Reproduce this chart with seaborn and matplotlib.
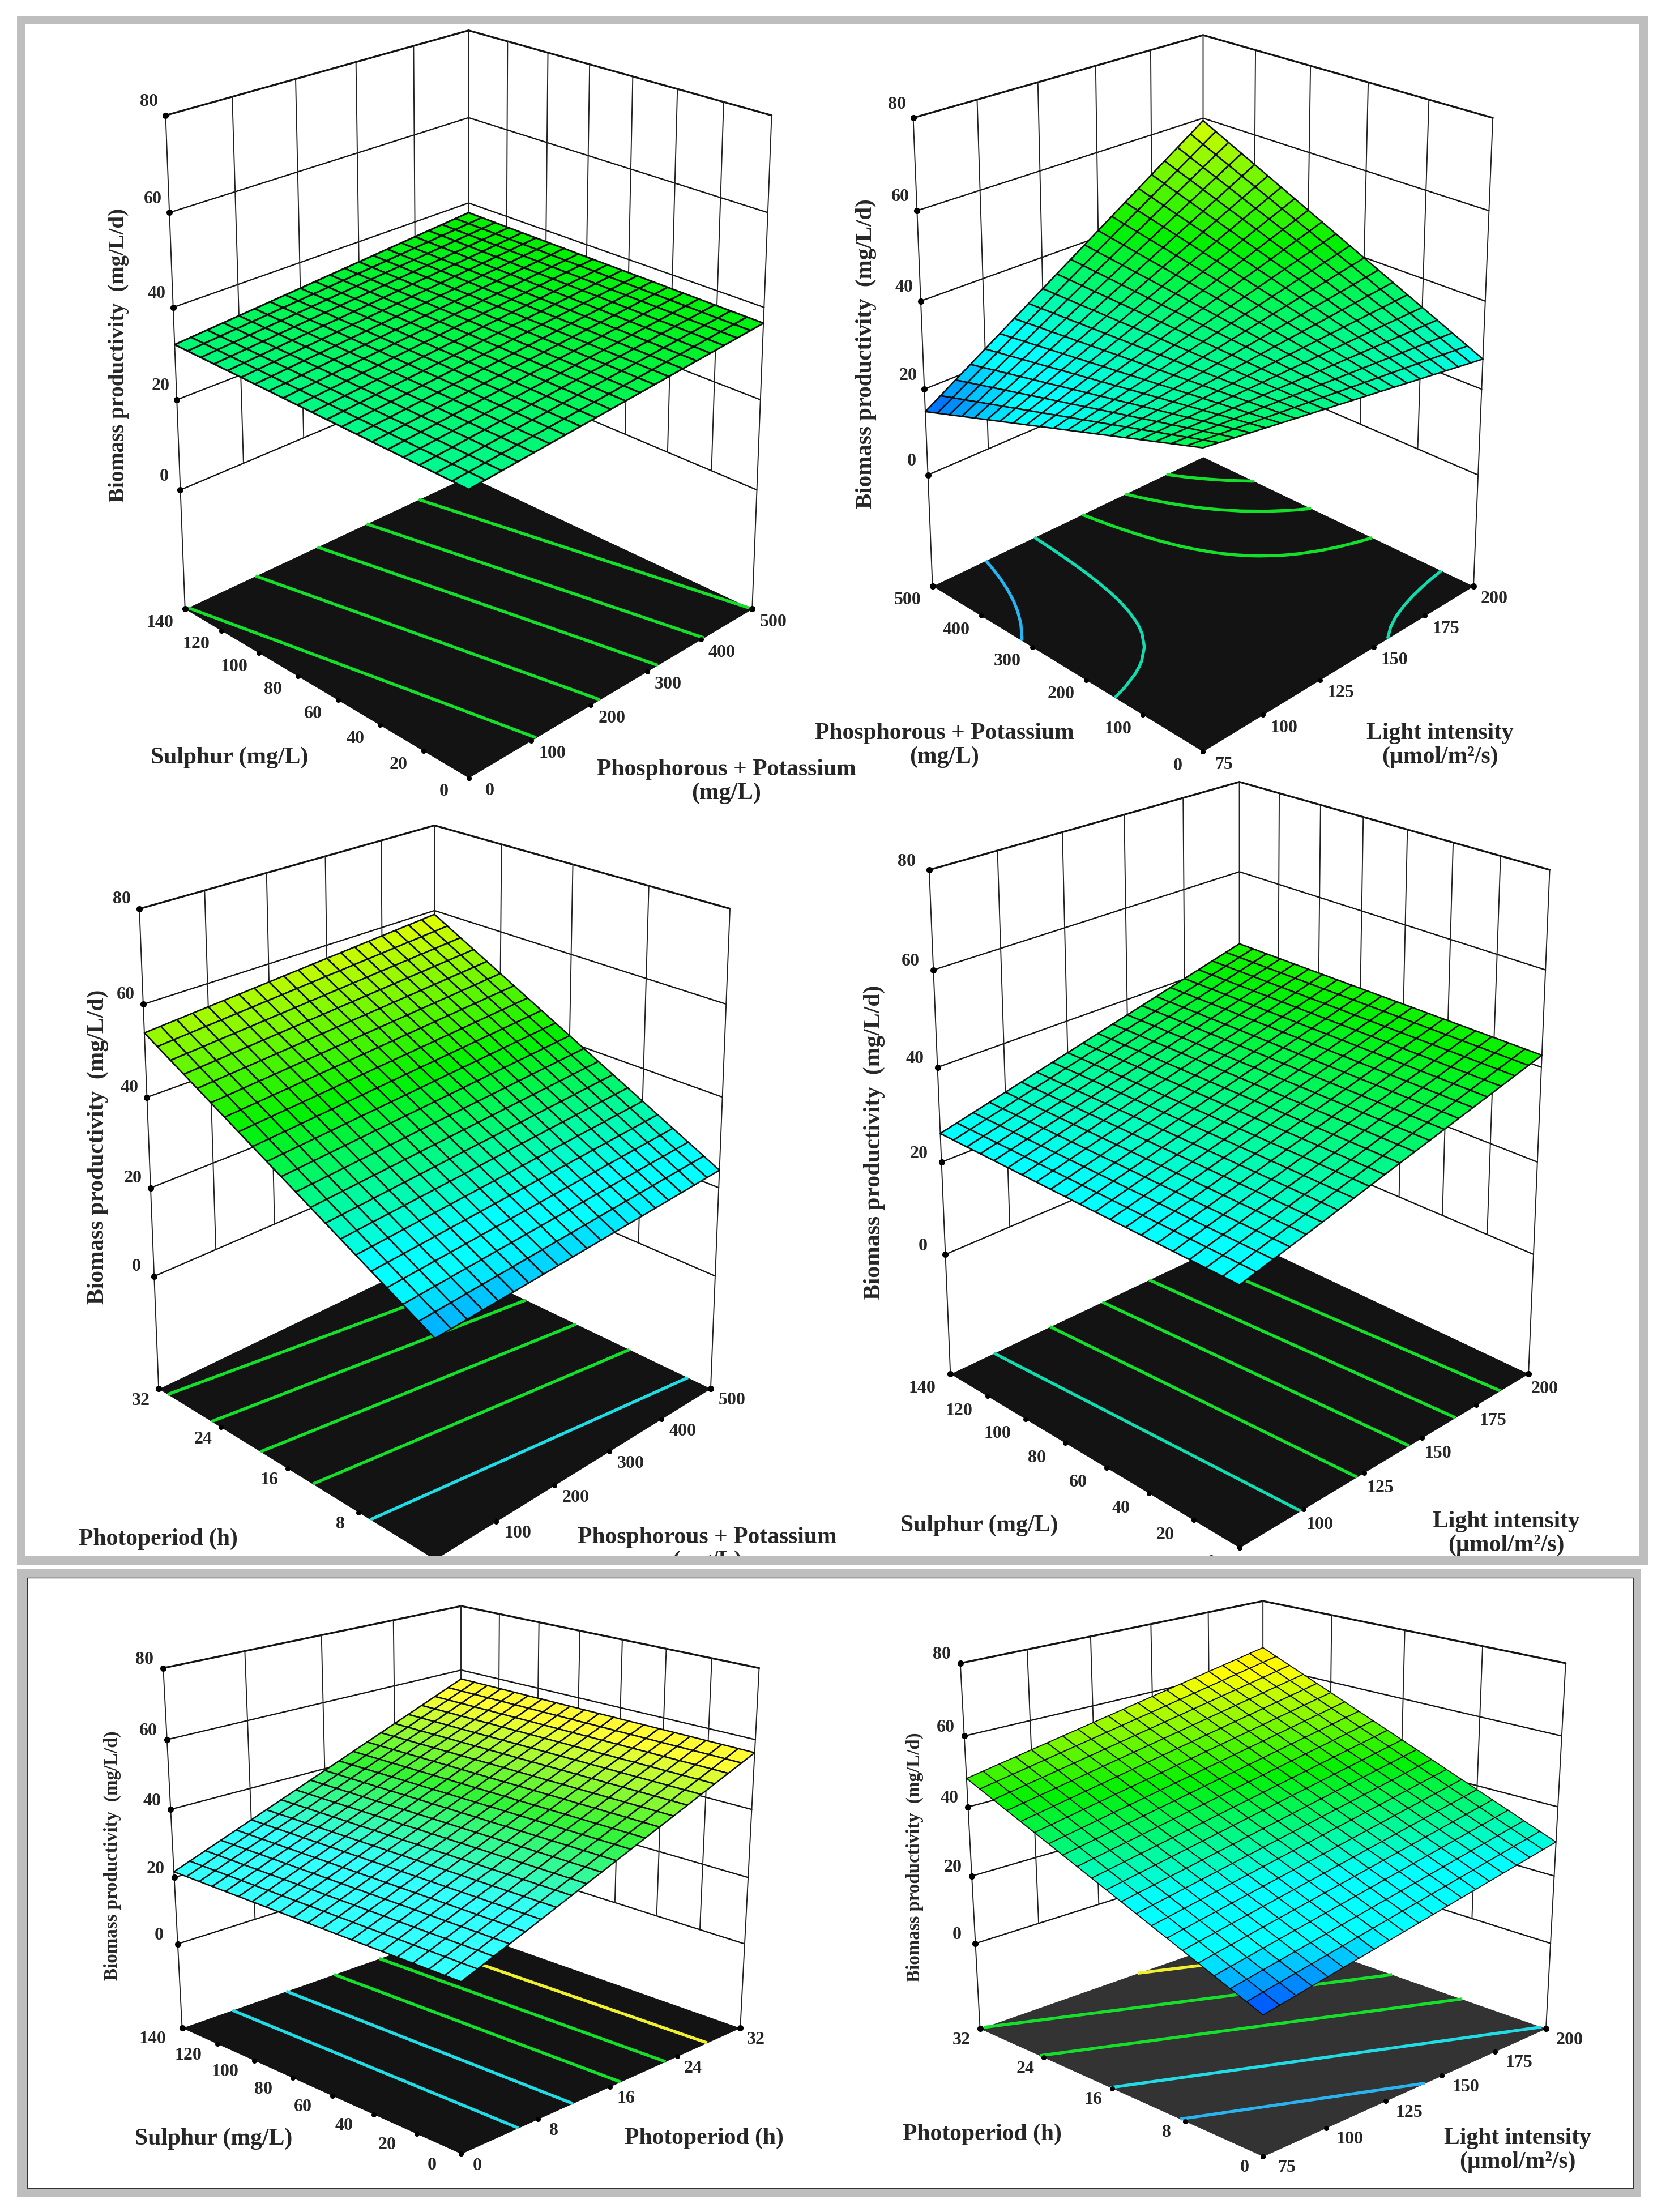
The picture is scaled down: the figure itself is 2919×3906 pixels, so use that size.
import numpy as np
import seaborn as sns
import matplotlib
import matplotlib.pyplot as plt
from matplotlib.patches import Rectangle
from mpl_toolkits.mplot3d import proj3d

matplotlib.use("Agg")

sns.set_theme(style="white")
plt.rcParams['font.family'] = ['Liberation Serif', 'DejaVu Serif']
plt.rcParams['font.weight'] = 'bold'

W_PX, H_PX = 2919, 3906
PX = 72 / 100  # points per output pixel

# axis ticks
pk_ticks = [0, 100, 200, 300, 400, 500]
sulphur_ticks = [0, 20, 40, 60, 80, 100, 120, 140]
light_ticks = [75, 100, 125, 150, 175, 200]
photo_ticks = [0, 8, 16, 24, 32]
z_ticks = [0, 20, 40, 60, 80]

pk_label = "Phosphorous + Potassium\n(mg/L)"
light_label = "Light intensity\n(\u00b5mol/m\u00b2/s)"
sulphur_label = "Sulphur (mg/L)"
photo_label = "Photoperiod (h)"
z_label = "Biomass productivity  (mg/L/d)"

# surface height read at the four corners: front, right, left, back
z_sulphur_pk = [30.8, 36.6, 32.0, 37.7]
z_pk_light = [37.0, 26.9, 14.8, 59.4]
z_photo_pk = [19.2, 23.9, 53.9, 59.1]
z_sulphur_light = [25.2, 42.5, 26.1, 43.6]
z_sulphur_photo = [21.0, 56.3, 21.7, 57.2]
z_photo_light = [12.3, 29.9, 48.1, 65.7]

lv_sulphur_pk = [32.05, 33.3, 34.5, 35.5, 36.6]
lv_pk_light = [22.8, 30.4, 38.2, 45.5, 52.7]
lv_photo_pk = [26.5, 33.4, 40.0, 46.5, 52.6]
lv_sulphur_light = [28.5, 31.7, 34.8, 37.7, 40.6]
lv_sulphur_photo = [27.5, 34.0, 40.0, 45.9, 51.6]
lv_photo_light = [21.8, 30.4, 39.7, 48.3, 57.4]

GREEN, CYAN, TEAL, BLUE, YELLOW = "#14e02a", "#20dce4", "#10dcb0", "#28b4f0", "#f0f030"
GRID_N = 21
ramp = sns.blend_palette(["#0040ff", "#00ffff", "#00f000", "#ffff00", "#ffc000"], as_cmap=True)
ramp_at = [0, .25, .25, .5, .75, 1]


def z_color(z, stops, pale):
    c = np.array(ramp(np.interp(z, stops, ramp_at)))
    c[..., :3] = c[..., :3] + (1 - c[..., :3]) * pale
    return c


def frame(outer, inner, zorder, edge="none"):
    for (a, b, c, d), col, ec in ((outer, "#bebebe", "none"), (inner, "white", edge)):
        fig.add_artist(Rectangle((a / W_PX, 1 - d / H_PX), (c - a) / W_PX, (d - b) / H_PX,
                                 transform=fig.transFigure, facecolor=col, edgecolor=ec,
                                 linewidth=1.0, zorder=zorder))


def draw_panel(p):
    x0, y0, w, h = p["rect"]
    ax = fig.add_axes([x0 / W_PX, 1 - (y0 + h) / H_PX, w / W_PX, h / H_PX],
                      projection="3d", zorder=p["zorder"])
    # the picture is stretched differently in x and y, so keep the rect as given
    ax.apply_aspect = lambda position=None: None
    ax.computed_zorder = False
    ax.patch.set_alpha(0)
    ax.set_axis_off()

    xt, yt, zf = p["xt"], p["yt"], p["zf"]
    xa, xb, ya, yb = xt[0], xt[-1], yt[0], yt[-1]
    top = z_ticks[-1]

    # walls
    for z in z_ticks:
        lw = 2.4 if z == top else 1.7
        ax.plot([xa, xb], [yb, yb], [z, z], color="#141414", lw=lw, zorder=1)
        ax.plot([xb, xb], [ya, yb], [z, z], color="#141414", lw=lw, zorder=1)
    for x in xt[1:-1]:
        ax.plot([x, x], [yb, yb], [0, top], color="#222222", lw=1.4, zorder=1)
    for y in yt[1:-1]:
        ax.plot([xb, xb], [y, y], [0, top], color="#222222", lw=1.4, zorder=1)
    ax.plot([xb, xb], [yb, yb], [0, top], color="#222222", lw=1.4, zorder=1)
    ax.plot([xa, xa], [yb, yb], [zf, top], color="#222222", lw=1.4, zorder=1)
    ax.plot([xb, xb], [ya, ya], [zf, top], color="#222222", lw=1.4, zorder=1)

    # floor with contours
    fx, fy = np.meshgrid([xa, xb], [ya, yb])
    ax.plot_surface(fx, fy, np.full_like(fx, zf, dtype=float), color=p["floor"],
                    shade=False, zorder=2, linewidth=0)

    # mesh between the corner readings; a response surface of this kind is bilinear
    f, r, l, b = p["z"]
    u, v = np.meshgrid(np.linspace(0, 1, GRID_N), np.linspace(0, 1, GRID_N))
    Z = f * (1 - u) * (1 - v) + r * u * (1 - v) + l * (1 - u) * v + b * u * v
    X = xa + u * (xb - xa)
    Y = ya + v * (yb - ya)
    ax.contour(X, Y, Z, levels=p["levels"], colors=p["line_colors"], linewidths=3.9,
               zdir="z", offset=zf, zorder=3)
    surf = ax.plot_surface(X, Y, Z, facecolors=z_color(Z, p["stops"], p["pale"]),
                           rstride=1, cstride=1, shade=False, zorder=4)
    surf.set_edgecolors("#0e0e0e")
    surf.set_linewidth(p["mesh_lw"])

    # tick dots
    ax.plot([xa] * len(z_ticks), [yb] * len(z_ticks), z_ticks, "o", color="black", ms=7, zorder=5)
    ax.plot(xt, [ya] * len(xt), [zf] * len(xt), "o", color="black", ms=5.5, zorder=5)
    ax.plot([xa] * len(yt), yt, [zf] * len(yt), "o", color="black", ms=5.5, zorder=5)
    ax.plot([xa, xb], [yb, ya], [zf, zf], "o", color="black", ms=7, zorder=5)

    ax.set_xlim(xa, xb)
    ax.set_ylim(ya, yb)
    ax.set_zlim(zf, top)
    ax.set_box_aspect((1, 1, p["bz"]), zoom=0.7)
    ax.view_init(elev=p["elev"], azim=p["azim"])
    ax.set_proj_type("persp", focal_length=p["focal"])

    # tick labels sit a fixed pixel offset away from the projected tick
    M = ax.get_proj()

    def tick_label(x, y, z, text, off):
        xp, yp, _ = proj3d.proj_transform(np.array([x], float), np.array([y], float),
                                          np.array([z], float), M)
        ax.annotate(text, (xp[0], yp[0]), xytext=(off[0] * PX, -off[1] * PX),
                    textcoords="offset points", fontsize=23, ha="center", va="center",
                    annotation_clip=False, zorder=6)

    for x in xt:
        tick_label(x, ya, zf, str(x), p["off_r"])
    for y in yt:
        tick_label(xa, y, zf, str(y), p["off_l"])
    for z in z_ticks:
        tick_label(xa, yb, z, str(z), p["off_z"])

    tz = p["zorder"] + 0.5
    for text, tx, ty, fs in p["titles"]:
        fig.text(tx / W_PX, 1 - ty / H_PX, text, fontsize=fs, ha="center", va="center",
                 linespacing=1.15, zorder=tz)
    yx, yy, ys = p["ylabel"]
    fig.text(yx / W_PX, 1 - yy / H_PX, z_label, fontsize=ys, rotation=90,
             ha="center", va="center", zorder=tz)


stops_a = [13, 23, 26, 41, 60, 75]
stops_g = [13, 23, 26, 37, 60, 75]
stops_b = [5, 20, 29, 41, 53, 75]
stops_c = [11, 19, 27, 43, 60, 75]

panels = [
    dict(rect=(-85, -407, 1777, 2181), elev=20.20, focal=0.4092, bz=1.033, zf=-27.17, azim=-135.01,
         xt=pk_ticks, yt=sulphur_ticks, z=z_sulphur_pk, levels=lv_sulphur_pk, stops=stops_g, pale=0,
         line_colors=[GREEN] * 5, floor="#131313", mesh_lw=2.2, zorder=1,
         off_r=(37, 23), off_l=(-44, 24), off_z=(-29, -24),
         titles=[(sulphur_label, 405, 1338, 30), (pk_label, 1283, 1380, 30)], ylabel=(210, 627, 28)),
    dict(rect=(1256, -380, 1691, 2088), elev=20.55, focal=0.3975, bz=1.022, zf=-26.67, azim=-134.98,
         xt=light_ticks, yt=pk_ticks, z=z_pk_light, levels=lv_pk_light, stops=stops_a, pale=0,
         line_colors=[BLUE, TEAL, GREEN, GREEN, GREEN], floor="#131313", mesh_lw=1.9, zorder=1,
         off_r=(37, 23), off_l=(-44, 25), off_z=(-29, -24),
         titles=[(pk_label, 1668, 1316, 30), (light_label, 2543, 1316, 30)], ylabel=(1529, 625, 29.5)),
    dict(rect=(-111, 989, 1711, 2166), elev=20.06, focal=0.3907, bz=0.999, zf=-26.20, azim=-135.05,
         xt=pk_ticks, yt=photo_ticks, z=z_photo_pk, levels=lv_photo_pk, stops=stops_a, pale=0,
         line_colors=[CYAN, GREEN, GREEN, GREEN, GREEN], floor="#131313", mesh_lw=1.9, zorder=1,
         off_r=(38, 21), off_l=(-32, 21), off_z=(-31, -17),
         titles=[(photo_label, 279, 2718, 30), (pk_label, 1249, 2736, 30)], ylabel=(173, 2025, 30)),
    dict(rect=(1249, 925, 1830, 2203), elev=20.85, focal=0.4013, bz=1.057, zf=-26.67, azim=-135.02,
         xt=light_ticks, yt=sulphur_ticks, z=z_sulphur_light, levels=lv_sulphur_light, stops=stops_a, pale=0,
         line_colors=[TEAL, GREEN, GREEN, GREEN, GREEN], floor="#131313", mesh_lw=1.9, zorder=1,
         off_r=(29, 27), off_l=(-50, 26), off_z=(-40, -15),
         titles=[(sulphur_label, 1729, 2694, 30), (light_label, 2660, 2708, 30)], ylabel=(1544, 2017, 30)),
    dict(rect=(-74, 2486, 1730, 1619), elev=19.87, focal=0.4005, bz=1.002, zf=-26.02, azim=-135.00,
         xt=photo_ticks, yt=sulphur_ticks, z=z_sulphur_photo, levels=lv_sulphur_photo, stops=stops_b, pale=0.2,
         line_colors=[CYAN, CYAN, GREEN, GREEN, YELLOW], floor="#131313", mesh_lw=1.8, zorder=3,
         off_r=(28, 21), off_l=(-52, 20), off_z=(-33, -15),
         titles=[(sulphur_label, 377, 3777, 30), (photo_label, 1243, 3776, 30)], ylabel=(198, 3277, 23.8)),
    dict(rect=(1326, 2475, 1761, 1635), elev=19.95, focal=0.3934, bz=1.011, zf=-26.02, azim=-135.02,
         xt=light_ticks, yt=photo_ticks, z=z_photo_light, levels=lv_photo_light, stops=stops_c, pale=0,
         line_colors=[BLUE, CYAN, GREEN, GREEN, YELLOW], floor="#333333", mesh_lw=1.3, zorder=3,
         off_r=(42, 20), off_l=(-33, 20), off_z=(-33, -15),
         titles=[(photo_label, 1734, 3769, 30), (light_label, 2680, 3797, 30)], ylabel=(1615, 3280, 23.8)),
]

fig = plt.figure(figsize=(W_PX / 100, H_PX / 100), dpi=100, facecolor="white")

frame((30, 29, 2910, 2763), (45, 43, 2894, 2747), 0)
for p in panels[:4]:
    draw_panel(p)

# the lower frame sits over whatever runs past the upper one
fig.add_artist(Rectangle((30 / W_PX, 1 - 2763 / H_PX), 2880 / W_PX, 16 / H_PX,
                         transform=fig.transFigure, facecolor="#bebebe", edgecolor="none", zorder=2))
fig.add_artist(Rectangle((0, 0), 1, 1 - 2763 / H_PX,
                         transform=fig.transFigure, facecolor="white", edgecolor="none", zorder=2))
frame((30, 2771, 2898, 3879), (48, 2786, 2884, 3864), 2.1, edge="#333333")
for p in panels[4:]:
    draw_panel(p)

fig.savefig("out.png", dpi=100)
